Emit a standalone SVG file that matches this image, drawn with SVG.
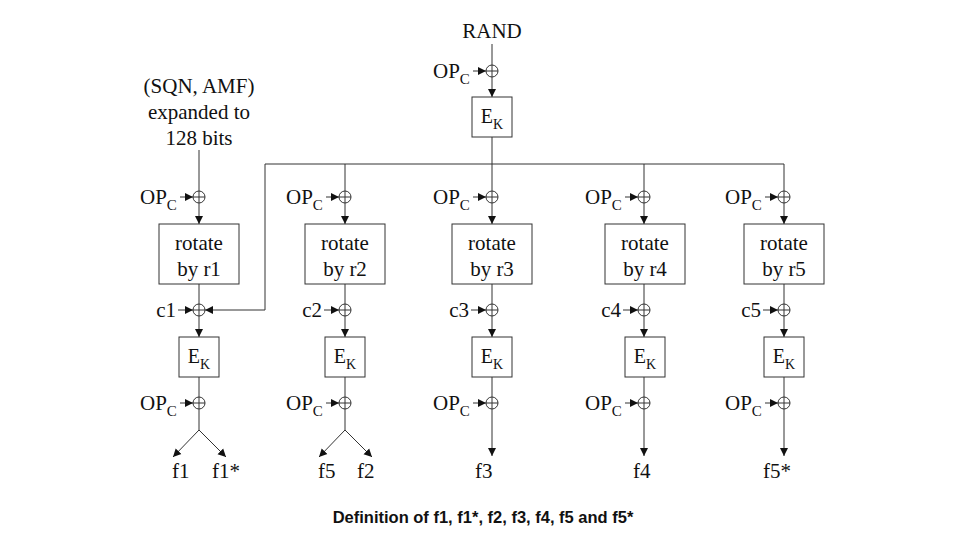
<svg xmlns="http://www.w3.org/2000/svg" width="960" height="540" viewBox="0 0 960 540">
<defs>
<marker id="ah" markerUnits="userSpaceOnUse" markerWidth="9" markerHeight="9" refX="8" refY="4.5" orient="auto">
<path d="M0,0.5 L8,4.5 L0,8.5 z" fill="#111"/>
</marker>
<style>
.sub{font-size:15px}
.ks{font-size:14px}
.ek{font-size:20px}
.ln{stroke:#333;stroke-width:1;fill:none}
.ar{stroke:#333;stroke-width:1;fill:none;marker-end:url(#ah)}
.box{fill:#fff;stroke:#333;stroke-width:1}
.xor{fill:#fff;stroke:#333;stroke-width:1}
</style>
</defs>
<rect width="960" height="540" fill="#fff"/>

<g id="connectors">
<line class="ln" x1="492" y1="44" x2="492" y2="65"/>
<line class="ar" x1="492" y1="77" x2="492" y2="97"/>
<line class="ln" x1="492" y1="137" x2="492" y2="164"/>
<line class="ln" x1="265" y1="164" x2="784" y2="164"/>
<polyline class="ar" points="265,164 265,310 205,310"/>
<line class="ln" x1="199" y1="150" x2="199" y2="191"/>
<line class="ar" x1="199" y1="203" x2="199" y2="224"/>
<line class="ln" x1="199" y1="284" x2="199" y2="304"/>
<line class="ar" x1="199" y1="316" x2="199" y2="337"/>
<line class="ln" x1="199" y1="377" x2="199" y2="397"/>
<line class="ln" x1="199" y1="409" x2="199" y2="430"/>
<line class="ar" x1="199" y1="430" x2="173" y2="457"/>
<line class="ar" x1="199" y1="430" x2="226" y2="457"/>
<line class="ln" x1="345" y1="164" x2="345" y2="191"/>
<line class="ar" x1="345" y1="203" x2="345" y2="224"/>
<line class="ln" x1="345" y1="284" x2="345" y2="304"/>
<line class="ar" x1="345" y1="316" x2="345" y2="337"/>
<line class="ln" x1="345" y1="377" x2="345" y2="397"/>
<line class="ln" x1="345" y1="409" x2="345" y2="430"/>
<line class="ar" x1="345" y1="430" x2="319" y2="457"/>
<line class="ar" x1="345" y1="430" x2="372" y2="457"/>
<line class="ln" x1="492" y1="164" x2="492" y2="191"/>
<line class="ar" x1="492" y1="203" x2="492" y2="224"/>
<line class="ln" x1="492" y1="284" x2="492" y2="304"/>
<line class="ar" x1="492" y1="316" x2="492" y2="337"/>
<line class="ln" x1="492" y1="377" x2="492" y2="397"/>
<line class="ar" x1="492" y1="409" x2="492" y2="456"/>
<line class="ln" x1="644" y1="164" x2="644" y2="191"/>
<line class="ar" x1="644" y1="203" x2="644" y2="224"/>
<line class="ln" x1="644" y1="284" x2="644" y2="304"/>
<line class="ar" x1="644" y1="316" x2="644" y2="337"/>
<line class="ln" x1="644" y1="377" x2="644" y2="397"/>
<line class="ar" x1="644" y1="409" x2="644" y2="456"/>
<line class="ln" x1="784" y1="164" x2="784" y2="191"/>
<line class="ar" x1="784" y1="203" x2="784" y2="224"/>
<line class="ln" x1="784" y1="284" x2="784" y2="304"/>
<line class="ar" x1="784" y1="316" x2="784" y2="337"/>
<line class="ln" x1="784" y1="377" x2="784" y2="397"/>
<line class="ar" x1="784" y1="409" x2="784" y2="456"/>
<line class="ar" x1="473" y1="71" x2="486" y2="71"/>
<line class="ar" x1="180" y1="197" x2="193" y2="197"/>
<line class="ar" x1="326" y1="197" x2="339" y2="197"/>
<line class="ar" x1="473" y1="197" x2="486" y2="197"/>
<line class="ar" x1="625" y1="197" x2="638" y2="197"/>
<line class="ar" x1="765" y1="197" x2="778" y2="197"/>
<line class="ar" x1="178" y1="310" x2="193" y2="310"/>
<line class="ar" x1="324" y1="310" x2="339" y2="310"/>
<line class="ar" x1="471" y1="310" x2="486" y2="310"/>
<line class="ar" x1="623" y1="310" x2="638" y2="310"/>
<line class="ar" x1="763" y1="310" x2="778" y2="310"/>
<line class="ar" x1="180" y1="403" x2="193" y2="403"/>
<line class="ar" x1="326" y1="403" x2="339" y2="403"/>
<line class="ar" x1="473" y1="403" x2="486" y2="403"/>
<line class="ar" x1="625" y1="403" x2="638" y2="403"/>
<line class="ar" x1="765" y1="403" x2="778" y2="403"/>
</g>

<g font-family="Liberation Serif, Times New Roman, serif" font-size="21" fill="#111">
<g id="rand"><text x="492" y="38" text-anchor="middle">RAND</text></g>
<g id="sqn">
<text x="199" y="93" text-anchor="middle">(SQN, AMF)</text>
<text x="199" y="119" text-anchor="middle">expanded to</text>
<text x="199" y="145" text-anchor="middle">128 bits</text>
</g>

<g id="xor-top"><circle class="xor" cx="492" cy="71" r="6"/><path class="ln" d="M486,71 H498 M492,65 V77"/><text x="433" y="78">OP<tspan class="sub" dy="6">C</tspan></text></g>
<g id="ek-top"><rect class="box" x="472" y="97" width="40" height="40"/><text class="ek" x="492" y="123" text-anchor="middle">E<tspan class="ks" dy="6">K</tspan></text></g>

<g id="xor1a"><circle class="xor" cx="199" cy="197" r="6"/><path class="ln" d="M193,197 H205 M199,191 V203"/><text x="140" y="204">OP<tspan class="sub" dy="6">C</tspan></text></g>
<g id="rot1"><rect class="box" x="159" y="224" width="80" height="60"/><text x="199" y="250" text-anchor="middle">rotate</text><text x="199" y="276" text-anchor="middle">by r1</text></g>
<g id="xor1b"><circle class="xor" cx="199" cy="310" r="6"/><path class="ln" d="M193,310 H205 M199,304 V316"/><text x="176" y="317" text-anchor="end">c1</text></g>
<g id="ek1"><rect class="box" x="179" y="337" width="40" height="40"/><text class="ek" x="199" y="363" text-anchor="middle">E<tspan class="ks" dy="6">K</tspan></text></g>
<g id="xor1c"><circle class="xor" cx="199" cy="403" r="6"/><path class="ln" d="M193,403 H205 M199,397 V409"/><text x="140" y="410">OP<tspan class="sub" dy="6">C</tspan></text></g>
<g id="out1"><text x="172" y="478">f1</text><text x="212" y="478">f1*</text></g>

<g id="xor2a"><circle class="xor" cx="345" cy="197" r="6"/><path class="ln" d="M339,197 H351 M345,191 V203"/><text x="286" y="204">OP<tspan class="sub" dy="6">C</tspan></text></g>
<g id="rot2"><rect class="box" x="305" y="224" width="80" height="60"/><text x="345" y="250" text-anchor="middle">rotate</text><text x="345" y="276" text-anchor="middle">by r2</text></g>
<g id="xor2b"><circle class="xor" cx="345" cy="310" r="6"/><path class="ln" d="M339,310 H351 M345,304 V316"/><text x="322" y="317" text-anchor="end">c2</text></g>
<g id="ek2"><rect class="box" x="325" y="337" width="40" height="40"/><text class="ek" x="345" y="363" text-anchor="middle">E<tspan class="ks" dy="6">K</tspan></text></g>
<g id="xor2c"><circle class="xor" cx="345" cy="403" r="6"/><path class="ln" d="M339,403 H351 M345,397 V409"/><text x="286" y="410">OP<tspan class="sub" dy="6">C</tspan></text></g>
<g id="out2"><text x="318" y="478">f5</text><text x="357" y="478">f2</text></g>

<g id="xor3a"><circle class="xor" cx="492" cy="197" r="6"/><path class="ln" d="M486,197 H498 M492,191 V203"/><text x="433" y="204">OP<tspan class="sub" dy="6">C</tspan></text></g>
<g id="rot3"><rect class="box" x="452" y="224" width="80" height="60"/><text x="492" y="250" text-anchor="middle">rotate</text><text x="492" y="276" text-anchor="middle">by r3</text></g>
<g id="xor3b"><circle class="xor" cx="492" cy="310" r="6"/><path class="ln" d="M486,310 H498 M492,304 V316"/><text x="469" y="317" text-anchor="end">c3</text></g>
<g id="ek3"><rect class="box" x="472" y="337" width="40" height="40"/><text class="ek" x="492" y="363" text-anchor="middle">E<tspan class="ks" dy="6">K</tspan></text></g>
<g id="xor3c"><circle class="xor" cx="492" cy="403" r="6"/><path class="ln" d="M486,403 H498 M492,397 V409"/><text x="433" y="410">OP<tspan class="sub" dy="6">C</tspan></text></g>
<g id="out3"><text x="475" y="478">f3</text></g>

<g id="xor4a"><circle class="xor" cx="644" cy="197" r="6"/><path class="ln" d="M638,197 H650 M644,191 V203"/><text x="585" y="204">OP<tspan class="sub" dy="6">C</tspan></text></g>
<g id="rot4"><rect class="box" x="605" y="224" width="80" height="60"/><text x="645" y="250" text-anchor="middle">rotate</text><text x="645" y="276" text-anchor="middle">by r4</text></g>
<g id="xor4b"><circle class="xor" cx="644" cy="310" r="6"/><path class="ln" d="M638,310 H650 M644,304 V316"/><text x="621" y="317" text-anchor="end">c4</text></g>
<g id="ek4"><rect class="box" x="625" y="337" width="40" height="40"/><text class="ek" x="645" y="363" text-anchor="middle">E<tspan class="ks" dy="6">K</tspan></text></g>
<g id="xor4c"><circle class="xor" cx="644" cy="403" r="6"/><path class="ln" d="M638,403 H650 M644,397 V409"/><text x="585" y="410">OP<tspan class="sub" dy="6">C</tspan></text></g>
<g id="out4"><text x="633" y="478">f4</text></g>

<g id="xor5a"><circle class="xor" cx="784" cy="197" r="6"/><path class="ln" d="M778,197 H790 M784,191 V203"/><text x="725" y="204">OP<tspan class="sub" dy="6">C</tspan></text></g>
<g id="rot5"><rect class="box" x="744" y="224" width="80" height="60"/><text x="784" y="250" text-anchor="middle">rotate</text><text x="784" y="276" text-anchor="middle">by r5</text></g>
<g id="xor5b"><circle class="xor" cx="784" cy="310" r="6"/><path class="ln" d="M778,310 H790 M784,304 V316"/><text x="761" y="317" text-anchor="end">c5</text></g>
<g id="ek5"><rect class="box" x="764" y="337" width="40" height="40"/><text class="ek" x="784" y="363" text-anchor="middle">E<tspan class="ks" dy="6">K</tspan></text></g>
<g id="xor5c"><circle class="xor" cx="784" cy="403" r="6"/><path class="ln" d="M778,403 H790 M784,397 V409"/><text x="725" y="410">OP<tspan class="sub" dy="6">C</tspan></text></g>
<g id="out5"><text x="763" y="478">f5*</text></g>
</g>

<g id="caption"><text x="483" y="523" text-anchor="middle" font-family="Liberation Sans, Arial, sans-serif" font-size="16.5" font-weight="bold" fill="#111">Definition of f1, f1*, f2, f3, f4, f5 and f5*</text></g>
</svg>
